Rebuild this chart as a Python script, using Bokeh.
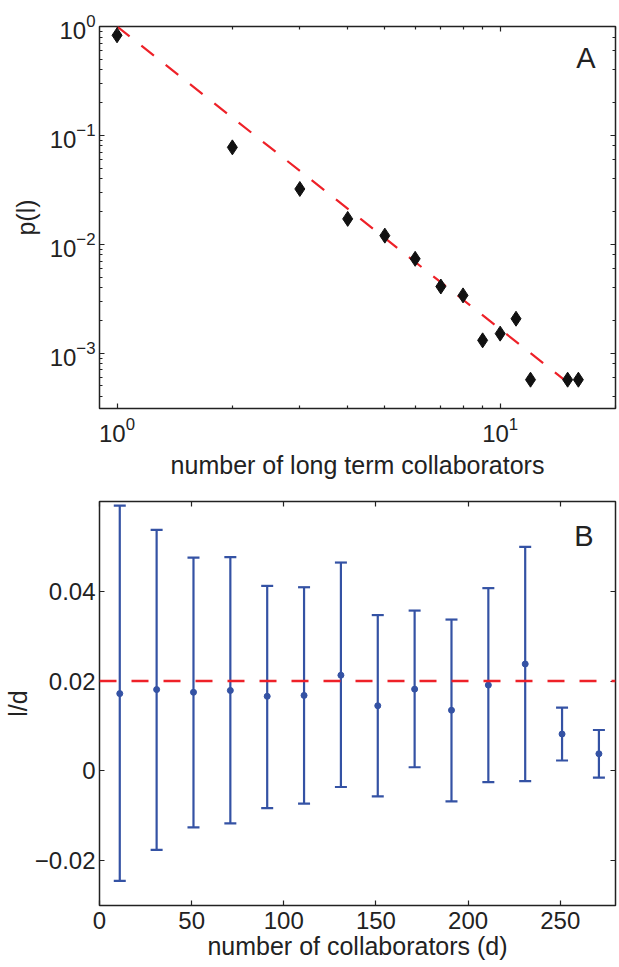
from bokeh.plotting import figure
from bokeh.models import (Range1d, LogAxis, LinearAxis, FixedTicker, Span, Label,
                          CustomJSTickFormatter)
from bokeh.layouts import column
from bokeh.embed import file_html
from bokeh.resources import INLINE

# ---------------- data: panel A ----------------
l_vals = [1, 2, 3, 4, 5, 6, 7, 8, 9, 10, 11, 12, 15, 16]
p_vals = [0.83, 0.0776, 0.0322, 0.0171, 0.0120, 0.00735, 0.00409, 0.00339,
          0.00131, 0.00151, 0.00207, 0.00057, 0.00057, 0.00057]
fit_l = [1, 16]
fit_p = [1.0, 4.5e-4]
a_xticks = [1, 10]
a_xminor = [2, 3, 4, 5, 6, 7, 8, 9, 20]

# ---------------- data: panel B ----------------
d_vals = [11, 31, 51, 71, 91, 111, 131, 151, 171, 191, 211, 231, 251, 271]
mean_vals = [0.0172, 0.0181, 0.0175, 0.0179, 0.0166, 0.0168, 0.0213, 0.0145,
             0.0182, 0.0135, 0.0191, 0.0238, 0.0082, 0.0038]
upper_vals = [0.0591, 0.0537, 0.0475, 0.0476, 0.0412, 0.0409, 0.0464, 0.0347,
              0.0357, 0.0337, 0.0407, 0.0499, 0.0141, 0.0091]
lower_vals = [-0.0245, -0.0176, -0.0126, -0.0117, -0.0083, -0.0073, -0.0036,
              -0.0057, 0.0008, -0.0068, -0.0025, -0.0023, 0.0023, -0.0015]
ref_level = 0.02
b_xticks = [0, 50, 100, 150, 200, 250]
b_yticks = [-0.02, 0, 0.02, 0.04]
b_ylabels = {-0.02: "\u22120.02", 0: "0", 0.02: "0.02", 0.04: "0.04"}

FONT = "Liberation Sans"
INK = "#222222"
RED = "#ee2128"
BLUE = "#3452a4"
TICK_FS = "24px"
LABEL_FS = "25px"


def style_axis(ax, show_labels=True):
    ax.axis_line_color = None
    ax.major_tick_in = 5
    ax.major_tick_out = 0
    ax.minor_tick_in = 3
    ax.minor_tick_out = 0
    ax.major_tick_line_color = INK
    ax.minor_tick_line_color = INK
    ax.major_tick_line_width = 1.2
    ax.minor_tick_line_width = 1.2
    ax.major_label_text_font = FONT
    ax.major_label_text_color = INK
    ax.axis_label_text_font = FONT
    ax.axis_label_text_font_style = "normal"
    ax.axis_label_text_color = INK
    ax.axis_label_text_font_size = LABEL_FS
    if show_labels:
        ax.major_label_text_font_size = TICK_FS
    else:
        ax.formatter = CustomJSTickFormatter(code="return ''")
        ax.major_label_text_font_size = "0px"
        ax.major_label_standoff = 0


def frame_style(p):
    p.grid.visible = False
    p.outline_line_color = INK
    p.outline_line_width = 1.5
    p.outline_line_alpha = 1.0
    p.background_fill_color = "white"
    p.border_fill_color = "white"


# ---------------- panel A ----------------
p1 = figure(width=619, height=486, x_axis_type="log", y_axis_type="log",
            x_range=Range1d(0.9, 20), y_range=Range1d(3.1e-4, 1.0),
            output_backend="svg", toolbar_location=None,
            min_border_left=97, min_border_right=2, min_border_top=26,
            min_border_bottom=78)
frame_style(p1)
p1.add_layout(LogAxis(), "above")
p1.add_layout(LogAxis(), "right")
for ax in [p1.below[0], p1.above[0]]:
    ax.ticker = FixedTicker(ticks=a_xticks, minor_ticks=a_xminor)
style_axis(p1.below[0])
style_axis(p1.left[0])
style_axis(p1.above[0], show_labels=False)
style_axis(p1.right[0], show_labels=False)
p1.below[0].axis_label = "number of long term collaborators"
p1.left[0].axis_label = "p(l)"
p1.below[0].major_label_standoff = 8
p1.below[0].axis_label_standoff = 6
p1.left[0].major_label_standoff = 4
p1.left[0].axis_label_standoff = 7

p1.line(fit_l, fit_p, line_color=RED, line_width=2.2, line_dash="16 15")
p1.scatter(l_vals, p_vals, marker="diamond", size=15, fill_color="#111111",
           line_color="#111111")
p1.add_layout(Label(x=16.75, y=0.516, text="A", text_align="center",
                    text_baseline="middle", text_font=FONT,
                    text_font_size="29px", text_color=INK))

# ---------------- panel B ----------------
p2 = figure(width=619, height=481, x_range=Range1d(0, 280),
            y_range=Range1d(-0.03, 0.06),
            output_backend="svg", toolbar_location=None,
            min_border_left=94, min_border_right=4, min_border_top=15,
            min_border_bottom=62)
frame_style(p2)
p2.add_layout(LinearAxis(), "above")
p2.add_layout(LinearAxis(), "right")
for ax in [p2.below[0], p2.above[0]]:
    ax.ticker = FixedTicker(ticks=b_xticks, minor_ticks=[])
for ax in [p2.left[0], p2.right[0]]:
    ax.ticker = FixedTicker(ticks=b_yticks, minor_ticks=[])
style_axis(p2.below[0])
style_axis(p2.left[0])
style_axis(p2.above[0], show_labels=False)
style_axis(p2.right[0], show_labels=False)
p2.left[0].major_label_overrides = b_ylabels
p2.below[0].axis_label = "number of collaborators (d)"
p2.left[0].axis_label = "l/d"
p2.below[0].major_label_standoff = 6
p2.below[0].axis_label_standoff = 0
p2.left[0].major_label_standoff = 4
p2.left[0].axis_label_standoff = 0

p2.add_layout(Span(location=ref_level, dimension="width", line_color=RED,
                   line_width=2.5, line_dash="17 15"))
p2.segment(x0=d_vals, y0=lower_vals, x1=d_vals, y1=upper_vals,
           line_color=BLUE, line_width=2.2)
p2.scatter(d_vals, upper_vals, marker="dash", size=12, line_color=BLUE,
           line_width=2.2)
p2.scatter(d_vals, lower_vals, marker="dash", size=12, line_color=BLUE,
           line_width=2.2)
p2.scatter(d_vals, mean_vals, marker="circle", size=6, fill_color=BLUE,
           line_color=BLUE)
p2.add_layout(Label(x=262.9, y=0.0524, text="B", text_align="center",
                    text_baseline="middle", text_font=FONT,
                    text_font_size="29px", text_color=INK))

layout = column(p1, p2, spacing=0)
open("out.html", "w").write(file_html(layout, INLINE))
